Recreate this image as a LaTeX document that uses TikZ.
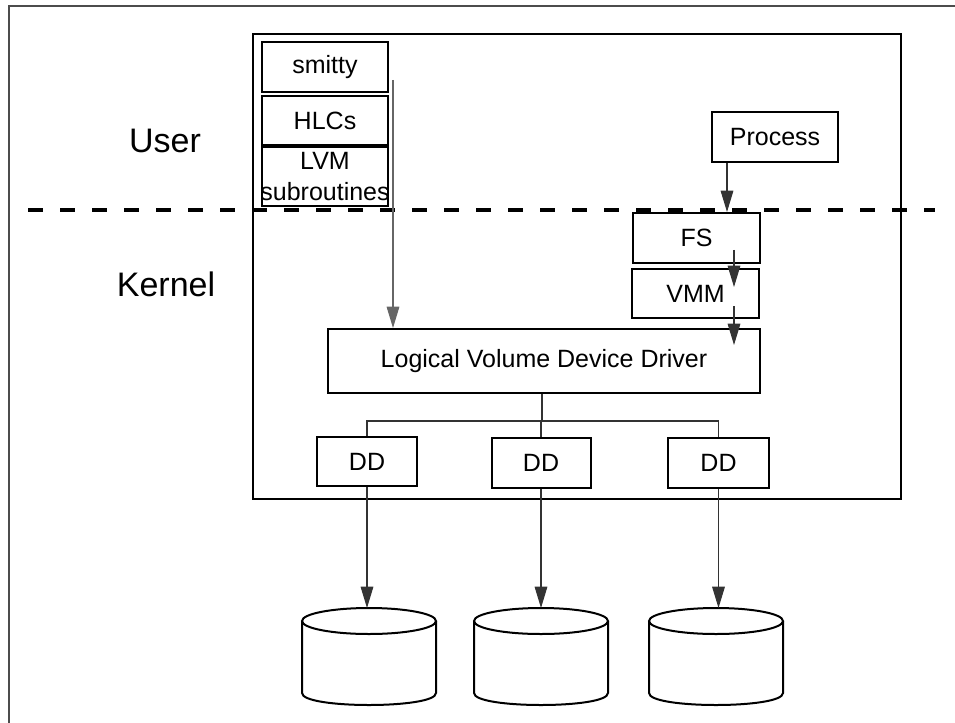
\documentclass[tikz,border=0pt]{standalone}
\usepackage{fontspec}
\setmainfont{Liberation Sans}
\usetikzlibrary{arrows.meta}
\tikzset{
  sz/.style 2 args={minimum width=#1*0.75pt, minimum height=#2*0.75pt},
  box/.style={draw=black, line width=1.5pt, inner sep=0pt, fill=white,
    font=\fontsize{18.75}{23.5}\selectfont, align=center},
  layer/.style={font=\fontsize{25.5}{30}\selectfont},
  conn/.style={draw=black!80, line width=0.8pt},
  arr/.style={conn, -{Triangle[length=16pt, width=9.5pt]}},
  disk/.style={draw=black, line width=1.5pt, fill=white},
  dashline/.style={line width=2.6pt, dash pattern=on 11.5pt off 12.5pt},
}
\begin{document}
\begin{tikzpicture}[x=0.75pt, y=-0.75pt]
\useasboundingbox (0,0) rectangle (955,723);

% page frame
\draw[gray!60!black, line width=1.2pt] (9,723) -- (9,6) -- (955,6);

% system box
\draw[line width=1.5pt] (253,34) rectangle (901,499);

% layer labels
\node[layer] (user) at (165,141) {User};
\node[layer] (kernel) at (166,284) {Kernel};

% user-space tools
\node[box, sz={126}{50}] (smitty) at (325,67) {smitty};
\node[box, sz={126}{49}] (hlcs) at (325,120.5) {HLCs};
\node[box, sz={126}{59}] (lvm) at (325,176.5) {\makebox[0pt]{LVM}\\\makebox[0pt]{subroutines}};
\node[box, sz={126}{50}] (process) at (775,137) {Process};

% user/kernel boundary
\draw[dashline] (28,210) -- (935,210);

% kernel components
\node[box, sz={127}{50}] (fs) at (696.5,238) {FS};
\node[box, sz={127}{49}] (vmm) at (695.5,293.5) {VMM};
\node[box, sz={432}{64}] (lvdd) at (544,361) {Logical Volume Device Driver};
\node[box, sz={100}{49}] (dd1) at (367,461.5) {DD};
\node[box, sz={99}{50}] (dd2) at (541,463) {DD};
\node[box, sz={101}{50}] (dd3) at (718.5,463) {DD};

% disks
\foreach \cx/\nm in {369/c1, 541/c2, 716/c3}{
  \draw[disk] (\cx-67,621) -- (\cx-67,693)
    .. controls (\cx-67,709) and (\cx+67,709) .. (\cx+67,693) -- (\cx+67,621);
  \draw[disk] (\cx,621) ellipse [x radius=50.25pt, y radius=9.75pt];
  \coordinate (\nm) at (\cx,608);
}

% calls from the tools down to the driver
\coordinate (sm0) at (393,80);
\draw[arr, draw=black!60] (sm0) -- (sm0 |- lvdd.north);

% process -> FS -> VMM -> LVDD
\draw[arr] ([xshift=12pt]process.south west) -- ([xshift=12pt]process.south west |- fs.north);
\coordinate (fv0) at (734,250);
\coordinate (fv1) at (734,287);
\draw[arr] (fv0) -- (fv1);
\coordinate (vl0) at (734,306);
\coordinate (vl1) at (734,345);
\draw[arr] (vl0) -- (vl1);

% driver fan-out to device drivers
\coordinate (bus) at (542,421);
\draw[conn] (lvdd.south -| bus) -- (bus);
\draw[conn] (dd1.north) -- (dd1.north |- bus) -- (dd3.north |- bus) -- (dd3.north);
\draw[conn] (dd2.north) -- (dd2.north |- bus);

% device drivers to disks
\draw[arr] (dd1.south) -- (dd1.south |- c1);
\draw[arr] (dd2.south) -- (c2);
\draw[arr] (dd3.south) -- (dd3.south |- c3);
\end{tikzpicture}
\end{document}
